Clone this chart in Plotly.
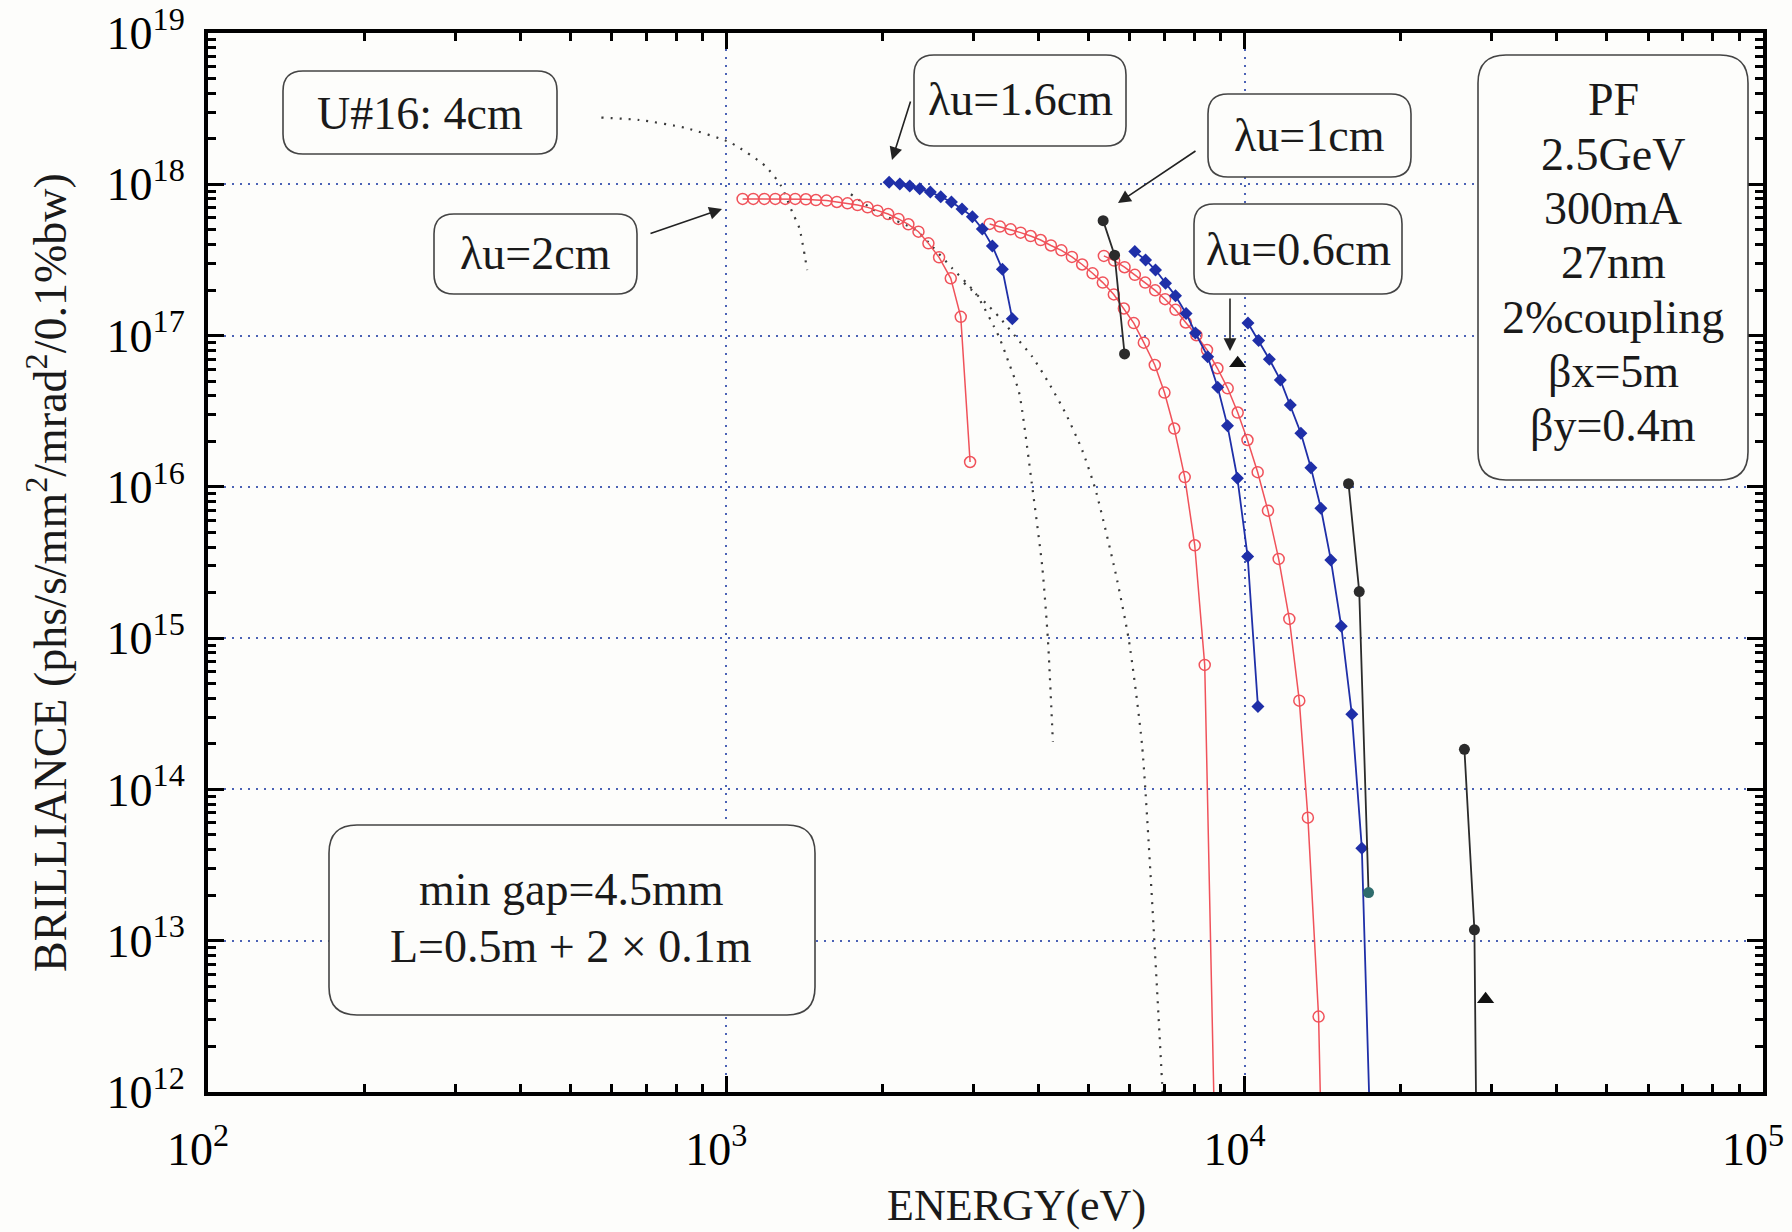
import plotly.graph_objects as go

# ---------------- data ----------------
# lambda_u = 2 cm (red open circles): 1st, 3rd, 5th harmonics
r1_e = [1075, 1127, 1184, 1243, 1299, 1358, 1424, 1489, 1561, 1634, 1713, 1791, 1873, 1957,
        2052, 2148, 2245, 2348, 2454, 2573, 2710, 2833, 2953]
r1_b = [8.0e17, 8.0e17, 8.0e17, 8.0e17, 8.0e17, 8.0e17, 7.96e17, 7.87e17, 7.8e17, 7.64e17,
        7.48e17, 7.29e17, 7.04e17, 6.69e17, 6.36e17, 5.90e17, 5.44e17, 4.86e17, 4.07e17,
        3.29e17, 2.39e17, 1.33e17, 1.46e16]
r3_e = [3221, 3372, 3536, 3697, 3864, 4040, 4229, 4430, 4642, 4858, 5088, 5325, 5592, 5847,
        6111, 6389, 6708, 7003, 7314, 7662, 8011, 8374, 8754]
r3_b = [5.47e17, 5.25e17, 5.04e17, 4.79e17, 4.55e17, 4.28e17, 3.94e17, 3.66e17, 3.31e17,
        2.95e17, 2.58e17, 2.24e17, 1.87e17, 1.51e17, 1.21e17, 8.98e16, 6.39e16, 4.20e16,
        2.43e16, 1.16e16, 4.11e15, 6.65e14, 5e11]
r5_e = [5350, 5601, 5865, 6139, 6428, 6718, 7022, 7354, 7697, 8071, 8459, 8860, 9274, 9695,
        10125, 10594, 11090, 11630, 12194, 12747, 13243, 13887, 14199]
r5_b = [3.36e17, 3.13e17, 2.83e17, 2.52e17, 2.24e17, 1.99e17, 1.74e17, 1.48e17, 1.22e17,
        1.005e17, 8.03e16, 6.08e16, 4.48e16, 3.10e16, 2.04e16, 1.25e16, 6.96e15, 3.34e15,
        1.34e15, 3.86e14, 6.51e13, 3.15e12, 1e11]

# lambda_u = 1.6 cm (blue diamonds)
b1_e = [2061, 2161, 2259, 2361, 2475, 2592, 2718, 2849, 2983, 3118, 3260, 3408, 3562]
b1_b = [1.03e18, 1.005e18, 9.75e17, 9.36e17, 8.9e17, 8.28e17, 7.64e17, 6.87e17, 6.11e17,
        5.07e17, 3.91e17, 2.74e17, 1.29e17]
b3_e = [6139, 6439, 6730, 7035, 7354, 7707, 8035, 8486, 8872, 9266, 9682, 10134, 10608]
b3_b = [3.59e17, 3.16e17, 2.71e17, 2.22e17, 1.83e17, 1.40e17, 1.04e17, 7.25e16, 4.55e16,
        2.53e16, 1.14e16, 3.46e15, 3.53e14]
b5_e = [10148, 10641, 11159, 11715, 12248, 12837, 13420, 14029, 14664, 15357, 16097, 16828, 17725]
b5_b = [1.21e17, 9.26e16, 6.97e16, 5.09e16, 3.48e16, 2.26e16, 1.34e16, 7.22e15, 3.29e15,
        1.20e15, 3.14e14, 4.09e13, 1e11]

# lambda_u = 1 cm (black dots)
k1_e = [5333, 5611, 5865]
k1_b = [5.75e17, 3.40e17, 7.56e16]
k3_e = [15863, 16636, 17338]
k3_b = [1.05e16, 2.03e15, 2.08e13]
k5_e = [26544, 27748, 28120]
k5_b = [1.84e14, 1.18e13, 1e11]

# lambda_u = 0.6 cm (black triangles)
t_e = [9695, 29160]
t_b = [6.56e16, 4.11e12]

# U#16 4 cm (dotted)
d1_e = [574, 680, 833, 1020, 1189, 1276, 1340, 1383, 1432]
d1_b = [2.76e18, 2.66e18, 2.36e18, 1.88e18, 1.32e18, 9.74e17, 6.56e17, 5.14e17, 2.71e17]
d3_e = [1739, 1972, 2320, 2498, 2729, 3027, 3357, 3510, 3669, 3892, 4069, 4173, 4266]
d3_b = [8.59e17, 6.43e17, 4.99e17, 3.87e17, 2.78e17, 1.90e17, 9.83e16, 6.56e16, 4.24e16,
        1.00e16, 2.97e15, 9.73e14, 2.06e14]
d5_e = [2874, 3166, 3357, 3615, 3892, 4192, 4514, 4858, 5157, 5636, 5977, 6343, 6929, 7000]
d5_b = [2.23e17, 1.64e17, 1.33e17, 9.83e16, 7.25e16, 4.84e16, 3.06e16, 1.75e16, 9.54e15,
        2.69e15, 9.73e14, 1.92e14, 1.15e12, 5e11]

# axis ticks
x_ticks = [1e2, 1e3, 1e4, 1e5]
x_ticktext = ["10<sup>2</sup>", "10<sup>3</sup>", "10<sup>4</sup>", "10<sup>5</sup>"]
y_ticks = [1e12, 1e13, 1e14, 1e15, 1e16, 1e17, 1e18, 1e19]
y_ticktext = ["10<sup>%d</sup>" % p for p in range(12, 20)]

# ---------------- figure ----------------
W, H = 1792, 1232
ML, MR, MT, MB = 208, 29, 33, 140
PW = W - ML - MR
PH = H - MT - MB


def px(x):
    return (x - ML) / PW


def py(y):
    return (H - MB - y) / PH


FONT = "Liberation Serif, Times New Roman, serif"
RED = "#f0525a"
BLUE = "#1f2fa8"
BLACK = "#2b2b2b"
DOT = "#3a3a3a"

fig = go.Figure()


def dotted(e, b):
    fig.add_trace(go.Scatter(x=e, y=b, mode="lines", showlegend=False,
                             line=dict(color=DOT, width=2.2, dash="2px,7px", shape="spline", smoothing=0.6)))


def series(e, b, color, symbol, size, lw, mcolor=None, mline=None):
    marker = dict(symbol=symbol, size=size, color=mcolor if mcolor is not None else color)
    if mline is not None:
        marker["line"] = mline
    fig.add_trace(go.Scatter(x=e, y=b, mode="lines+markers", showlegend=False,
                             line=dict(color=color, width=lw), marker=marker))


dotted(d1_e, d1_b)
dotted(d3_e, d3_b)
dotted(d5_e, d5_b)

for e, b in [(r1_e, r1_b), (r3_e, r3_b), (r5_e, r5_b)]:
    series(e, b, RED, "circle-open", 11, 1.5, mline=dict(color=RED, width=1.5))
for e, b in [(b1_e, b1_b), (b3_e, b3_b), (b5_e, b5_b)]:
    series(e, b, BLUE, "diamond", 10, 1.8)
series(k1_e, k1_b, BLACK, "circle", 11, 1.8)
series(k3_e, k3_b, BLACK, "circle", 11, 1.8, mcolor=[BLACK, BLACK, "#2f6c6c"])
series(k5_e, k5_b, BLACK, "circle", 11, 1.8)
fig.add_trace(go.Scatter(x=t_e, y=t_b, mode="markers", showlegend=False,
                         marker=dict(symbol="triangle-up", size=15, color="#111")))

minor_x = [k * 10 ** d for d in range(2, 5) for k in range(2, 10)]
minor_y = [k * 10 ** d for d in range(12, 19) for k in range(2, 10)]

GRID = "#4b62b5"
axis_common = dict(
    type="log", showline=True, linewidth=4, linecolor="black", mirror="allticks",
    ticks="inside", ticklen=16, tickwidth=3, tickcolor="black",
    showgrid=True, gridcolor=GRID, gridwidth=1.6, griddash="2px,6px",
    zeroline=False, tickmode="array",
    tickfont=dict(family=FONT, size=46, color="black"),
)
fig.update_xaxes(range=[2, 5], tickvals=x_ticks, ticktext=x_ticktext,
                 minor=dict(tickmode="array", tickvals=minor_x, ticks="inside", ticklen=8,
                            tickwidth=3, tickcolor="black", showgrid=False),
                 ticklabelstandoff=14, ticklabelshift=-10, **axis_common)
fig.update_yaxes(range=[12, 19], tickvals=y_ticks, ticktext=y_ticktext,
                 minor=dict(tickmode="array", tickvals=minor_y, ticks="inside", ticklen=8,
                            tickwidth=3, tickcolor="black", showgrid=False),
                 ticklabelstandoff=10, **axis_common)


def rbox(x0, y0, x1, y1, r=20):
    rx = r / PW
    ry = r / PH
    a, b_, c, d = px(x0), py(y0), px(x1), py(y1)  # b_ top, d bottom (paper)
    path = (f"M {a+rx},{b_} L {c-rx},{b_} Q {c},{b_} {c},{b_-ry} "
            f"L {c},{d+ry} Q {c},{d} {c-rx},{d} L {a+rx},{d} Q {a},{d} {a},{d+ry} "
            f"L {a},{b_-ry} Q {a},{b_} {a+rx},{b_} Z")
    fig.add_shape(type="path", path=path, xref="paper", yref="paper",
                  line=dict(color="#444", width=1.6), fillcolor="#fdfdfb", layer="above")


def text(x, y, s, size=46):
    fig.add_annotation(x=px(x), y=py(y), xref="paper", yref="paper", text=s, showarrow=False,
                       font=dict(family=FONT, size=size, color="#1a1a1a"),
                       xanchor="center", yanchor="middle")


def arrow(tail, tip):
    fig.add_annotation(x=px(tip[0]), y=py(tip[1]), xref="paper", yref="paper", text="",
                       showarrow=True, ax=tail[0] - tip[0], ay=tail[1] - tip[1],
                       arrowhead=2, arrowsize=1.6, arrowwidth=1.6, arrowcolor="#222")


rbox(283, 71, 557, 154)
text(420, 113, "U#16: 4cm")
rbox(434, 214, 637, 294)
text(535, 254, "λu=2cm")
rbox(914, 55, 1126, 146)
text(1020, 100, "λu=1.6cm")
rbox(1208, 94, 1411, 177)
text(1309, 135, "λu=1cm")
rbox(1194, 204, 1402, 294)
text(1298, 249, "λu=0.6cm")
rbox(1478, 55, 1748, 480, r=28)
for i, s in enumerate(["PF", "2.5GeV", "300mA", "27nm", "2%coupling", "βx=5m", "βy=0.4m"]):
    text(1613, 100 + i * 54.3, s)
rbox(329, 825, 815, 1015, r=28)
text(571, 889, "min gap=4.5mm")
text(571, 946, "L=0.5m + 2 × 0.1m")

arrow((649, 234), (722, 209))
arrow((911, 100), (892, 160))
arrow((1197, 150), (1118, 203))
arrow((1230, 297), (1230, 351))

fig.add_annotation(x=px(47), y=py(573), xref="paper", yref="paper", textangle=-90,
                   text="BRILLIANCE (phs/s/mm<sup>2</sup>/mrad<sup>2</sup>/0.1%bw)",
                   showarrow=False, font=dict(family=FONT, size=46, color="#1a1a1a"),
                   xanchor="center", yanchor="middle")
fig.add_annotation(x=px(1017), y=py(1231), xref="paper", yref="paper", text="ENERGY(eV)",
                   showarrow=False, font=dict(family=FONT, size=44, color="#1a1a1a"),
                   xanchor="center", yanchor="bottom", borderpad=0)

fig.update_layout(width=W, height=H, margin=dict(l=ML, r=MR, t=MT, b=MB, autoexpand=False),
                  paper_bgcolor="#fdfdfb", plot_bgcolor="#fdfdfb", showlegend=False,
                  font=dict(family=FONT))

fig.write_html("out.html")
